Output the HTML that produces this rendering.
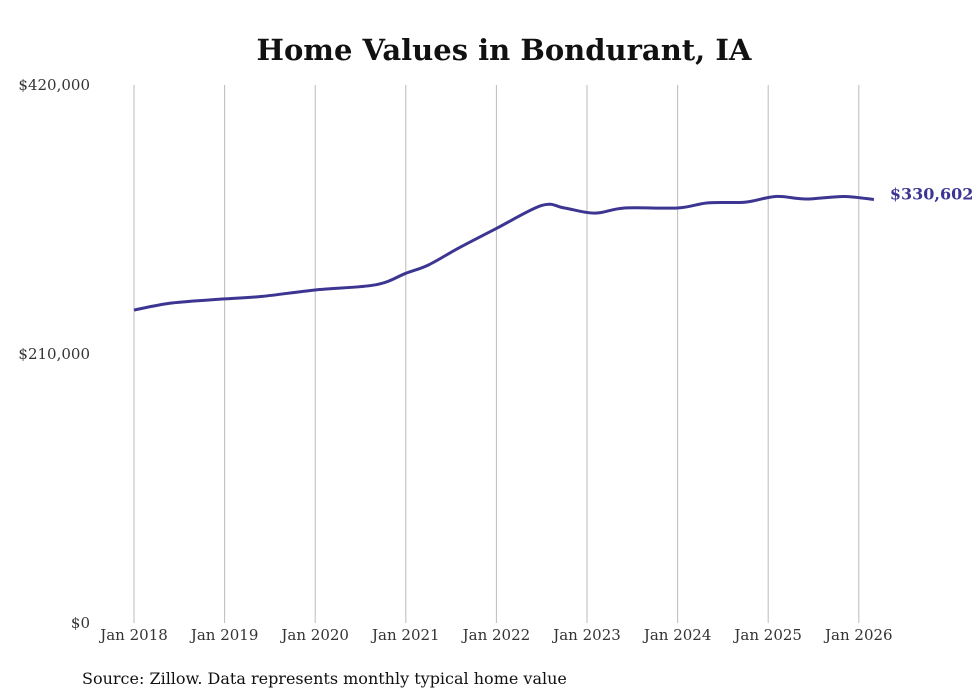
<!DOCTYPE html>
<html><head><meta charset="utf-8"><style>
html,body{margin:0;padding:0;background:#fff;}
svg{display:block;font-family:"DejaVu Serif","Liberation Serif",serif;}
</style></head><body>
<svg id="chart" width="980" height="699">
<text x="504" y="60" text-anchor="middle" font-size="29" font-weight="bold" fill="#111">Home Values in Bondurant, IA</text>
<g id="grid"></g>
<g id="yaxis"></g>
<g id="xaxis"></g>
<path id="line" fill="none" stroke="#3d3592" stroke-width="3"/>
<text id="endlabel" font-size="16" font-weight="bold" fill="#3d3592"></text>
<text x="82" y="684" font-size="16" fill="#111">Source: Zillow. Data represents monthly typical home value</text>
</svg>
<script>
const yearLabels=["Jan 2018","Jan 2019","Jan 2020","Jan 2021","Jan 2022","Jan 2023","Jan 2024","Jan 2025","Jan 2026"];
const yTicks=[0,210000,420000];
const months=[0,5,12,17,24,32,36,39,43,48,54,57,61,65,72,76,81,85,89,94,98];
const values=[244300,249800,253000,255000,260000,264000,273000,279500,292700,308000,326000,324000,320000,324000,324000,328000,328600,333000,331000,333000,330602];
const ns="http://www.w3.org/2000/svg";
const x0=134,xPerYear=90.6,yBase=623,yTop=85,yMax=420000;
const xs=m=>x0+m/12*xPerYear;
const ys=v=>yBase-(v/yMax)*(yBase-yTop);
const grid=document.getElementById('grid'),xa=document.getElementById('xaxis'),ya=document.getElementById('yaxis');
yearLabels.forEach((l,i)=>{
 const x=xs(i*12);
 const ln=document.createElementNS(ns,'line');
 ln.setAttribute('x1',x);ln.setAttribute('x2',x);ln.setAttribute('y1',yTop);ln.setAttribute('y2',yBase);
 ln.setAttribute('stroke','#bbb');ln.setAttribute('stroke-width','1');
 
 
 grid.appendChild(ln);
 const t=document.createElementNS(ns,'text');
 t.setAttribute('x',x);t.setAttribute('y',640);t.setAttribute('text-anchor','middle');
 t.setAttribute('font-size','15');t.setAttribute('fill','#333');t.textContent=l;
 
 
 xa.appendChild(t);
});
yTicks.forEach(v=>{
 const t=document.createElementNS(ns,'text');
 t.setAttribute('x',90);t.setAttribute('y',ys(v)+5);t.setAttribute('text-anchor','end');
 t.setAttribute('font-size','15');t.setAttribute('fill','#333');
 t.textContent='$'+v.toLocaleString('en-US');
 
 
 ya.appendChild(t);
});
const pts=months.map((m,i)=>[xs(m),ys(values[i])]);
let d='M'+pts[0][0]+','+pts[0][1];
for(let i=0;i<pts.length-1;i++){
 const p0=pts[Math.max(0,i-1)],p1=pts[i],p2=pts[i+1],p3=pts[Math.min(pts.length-1,i+2)];
 const c1=[p1[0]+(p2[0]-p0[0])/6,p1[1]+(p2[1]-p0[1])/6];
 const c2=[p2[0]-(p3[0]-p1[0])/6,p2[1]-(p3[1]-p1[1])/6];
 d+=` C${c1[0]},${c1[1]} ${c2[0]},${c2[1]} ${p2[0]},${p2[1]}`;
}
document.getElementById('line').setAttribute('d',d);
const last=pts[pts.length-1],el=document.getElementById('endlabel');
el.setAttribute('x',last[0]+16);el.setAttribute('y',last[1]+0);
el.textContent='$'+values[values.length-1].toLocaleString('en-US');
</script>
</body></html>
